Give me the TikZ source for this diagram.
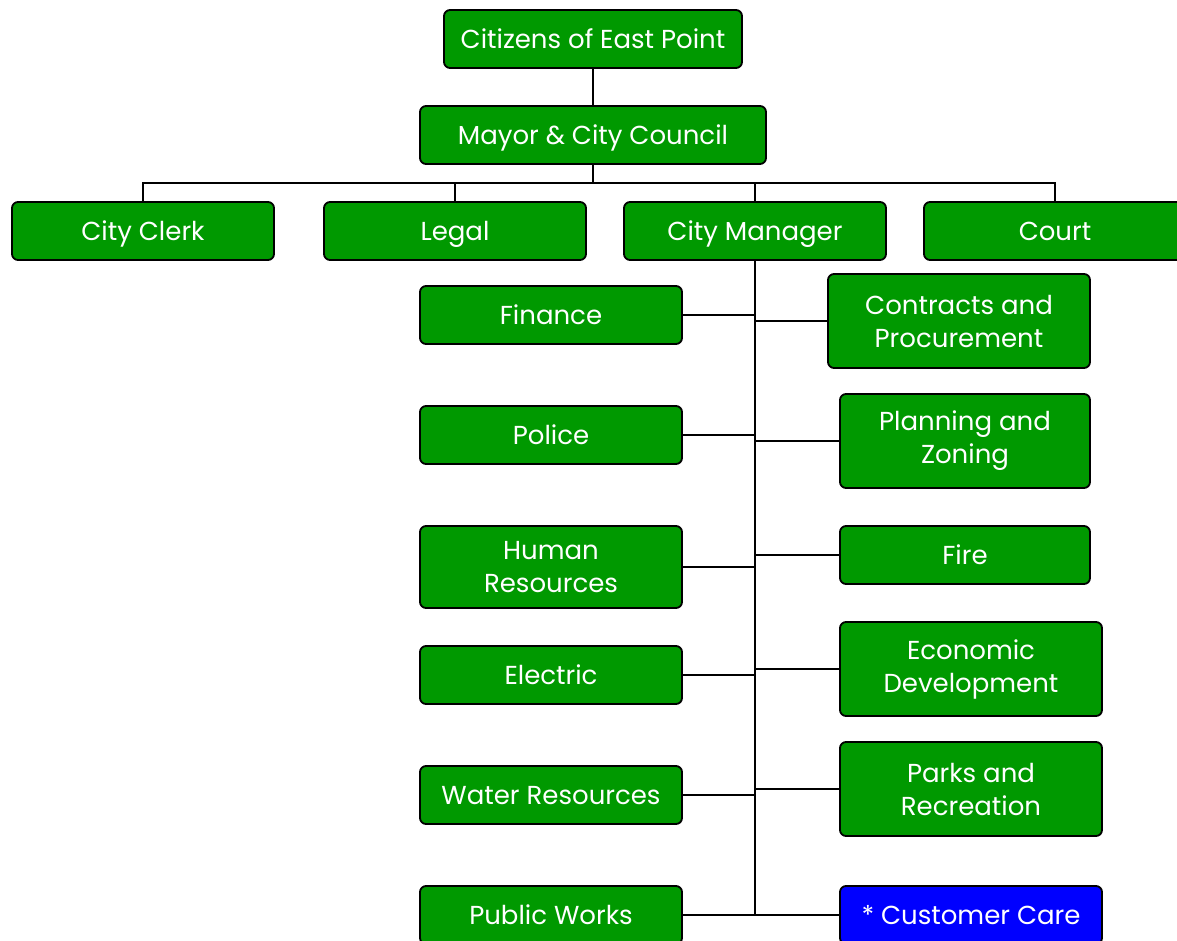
\documentclass[tikz,border=0pt]{standalone}
\usepackage{fontspec}
\setmainfont{Poppins}
\usetikzlibrary{positioning}
\definecolor{orggreen}{RGB}{0,153,0}
\definecolor{orgblue}{RGB}{0,0,255}
\tikzset{
  unitbox/.style={draw=black, line width=0.9pt, fill=orggreen, text=white, rounded corners=3pt,
    minimum width=131pt, minimum height=29pt, inner sep=0pt, align=center,
    font=\fontsize{13}{16.5}\selectfont},
  unit/.style={unitbox, text height=9.4pt, text depth=0pt},
  tallunit/.style={unitbox, minimum height=47pt},
  link/.style={line width=0.7pt}
}
\begin{document}
\begin{tikzpicture}[x=0.5pt, y=-0.5pt]
	\useasboundingbox (0,0) rectangle (1177,941);
	% top of the chart
	\node[unit, minimum width=149pt] (citizens) at (593,39) {Citizens of East Point};
	\node[unit, minimum width=173pt] (mayor) at (593,135) {Mayor \& City Council};
	\coordinate (bus) at (593,183);
	\node[unit] (clerk)   at (143,231)  {City Clerk};
	\node[unit] (legal)   at (455,231)  {Legal};
	\node[unit] (manager) at (755,231)  {City Manager};
	\node[unit] (court)   at (1055,231) {Court};
	
	\draw[link] (citizens) -- (mayor);
	\draw[link] (mayor) -- (bus);
	\draw[link] (clerk.north) |- (bus) -| (court.north);
	\draw[link] (legal.north) -- (legal.north |- bus);
	\draw[link] (manager.north) -- (manager.north |- bus);
	
	% departments under the city manager
	\node[unit] (finance)  at (551,315) {Finance};
	\node[unit] (police)   at (551,435) {Police};
	\node[unitbox, minimum height=41pt] (hr) at (551,567) {Human\\Resources};
	\node[unit] (electric) at (551,675) {Electric};
	\node[unit] (water)    at (551,795) {Water Resources};
	\node[unit] (works)    at (551,915) {Public Works};
	
	\node[tallunit] (contracts) at (959,321) {Contracts and\\Procurement};
	\node[tallunit, minimum width=125pt] (planning) at (965,441) {Planning and\\Zoning};
	\node[unit, minimum width=125pt] (fire) at (965,555) {Fire};
	\node[tallunit] (economic) at (971,669) {Economic\\Development};
	\node[tallunit] (parks)    at (971,789) {Parks and\\Recreation};
	\node[unit, fill=orgblue] (care) at (971,915) {* Customer Care};
	
	\coordinate (trunkend) at (755,915);
	\draw[link] (manager) -- (trunkend);
	\foreach \dept in {finance,police,hr,electric,water,works}
		\draw[link] (\dept.east) -- (\dept.east -| trunkend);
	\foreach \dept in {contracts,planning,fire,economic,parks,care}
		\draw[link] (\dept.west) -- (\dept.west -| trunkend);
\end{tikzpicture}
\end{document}
